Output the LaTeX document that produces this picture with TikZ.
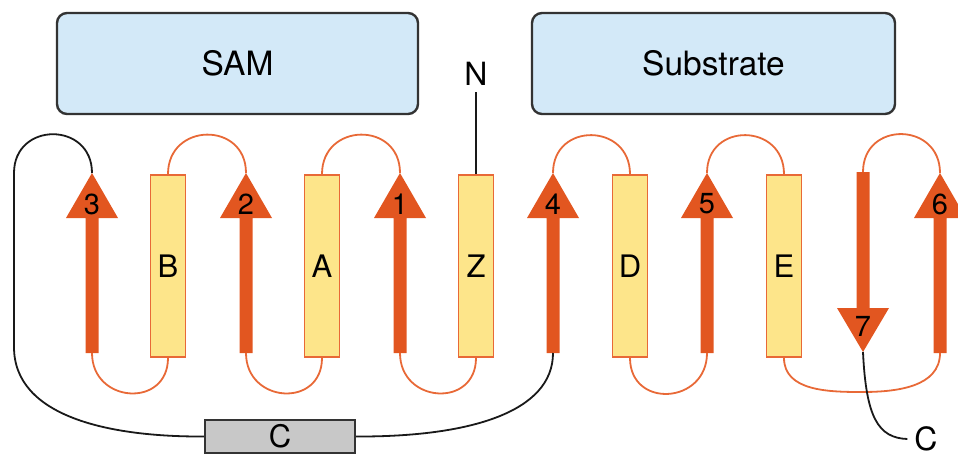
\documentclass[tikz,border=0pt]{standalone}
\usepackage{fontspec}
\setmainfont{TeX Gyre Heros}
\definecolor{strandred}{RGB}{226,86,32}
\definecolor{loopred}{RGB}{232,105,55}
\definecolor{helixfill}{RGB}{253,229,138}
\definecolor{siteblue}{RGB}{211,233,248}
\definecolor{coilgray}{RGB}{200,200,200}
\begin{document}
\begin{tikzpicture}[x=0.5pt, y=0.5pt,
	site/.style={draw=black!80, line width=1.2pt, fill=siteblue, rounded corners=5pt, minimum height=50.5pt, font=\fontsize{16.75}{18}\selectfont},
	helix/.style={draw=loopred, line width=0.9pt, fill=helixfill, minimum width=17.5pt, minimum height=91pt, inner sep=0pt, font=\fontsize{15.5}{17}\selectfont},
	strand/.style={fill=strandred},
	num/.style={inner sep=0pt, font=\fontsize{14.5}{16}\selectfont},
	loop/.style={draw=loopred, line width=0.9pt},
	coil/.style={draw=black!90, line width=0.9pt}]
	\clip (0,0) rectangle (958,457);

	% Binding sites
	\node[site, minimum width=180.5pt] (sam) at (237.5,393.5) {SAM};
	\node[site, minimum width=181.5pt] (sub) at (713.5,393.5) {Substrate};

	% Helices
	\foreach \n/\x in {B/168, A/322, Z/476, D/630, E/784}
		\node[helix] (h\n) at (\x,191) {\n};

	% Strands pointing up
	\foreach \n/\x in {3/92, 2/246, 1/400, 4/553, 5/707, 6/940} {
		\fill[strand] (\x-6.5,104) -- (\x-6.5,239) -- (\x-26,239) -- (\x,284) -- (\x+26,239) -- (\x+6.5,239) -- (\x+6.5,104) -- cycle;
		\coordinate (s\n-top) at (\x,284);
		\coordinate (s\n-bot) at (\x,104);
		\node[num] (n\n) at (\x,253) {\n};
	}

	% Strand 7 points down
	\fill[strand] (856.5,285) -- (856.5,149) -- (837,149) -- (863,105) -- (889,149) -- (869.5,149) -- (869.5,285) -- cycle;
	\coordinate (s7-top) at (863,285);
	\coordinate (s7-bot) at (863,105);
	\node[num] (n7) at (863,131) {7};

	% Loops above
	\draw[loop] (hB.north) to[out=90, in=90, looseness=1.7] (s2-top);
	\draw[loop] (hA.north) to[out=90, in=90, looseness=1.7] (s1-top);
	\draw[loop] (s4-top) to[out=90, in=90, looseness=1.7] (hD.north);
	\draw[loop] (s5-top) to[out=90, in=90, looseness=1.7] (hE.north);
	\draw[loop] (s7-top) to[out=90, in=90, looseness=1.7] (s6-top);

	% Loops below
	\draw[loop] (s3-bot) to[out=-90, in=-90, looseness=1.7] (hB.south);
	\draw[loop] (s2-bot) to[out=-90, in=-90, looseness=1.7] (hA.south);
	\draw[loop] (s1-bot) to[out=-90, in=-90, looseness=1.7] (hZ.south);
	\draw[loop] (hD.south) to[out=-90, in=-90, looseness=1.7] (s5-bot);
	\draw[loop] (hE.south) to[out=-90, in=180] (862,65) to[out=0, in=-90] (s6-bot);

	% Crossover through helix C
	\node[draw=black!80, line width=1.2pt, fill=coilgray, minimum width=75pt, minimum height=16.5pt, inner sep=0pt, font=\fontsize{15.5}{17}\selectfont] (hC) at (280,20.5) {C};
	\draw[coil] (s3-top) to[out=90, in=90, looseness=1.7] (14,284) -- (14,110) .. controls (14,40) and (110,20) .. (hC.west);
	\draw[coil] (hC.east) .. controls (470,20) and (553,45) .. (s4-bot);

	% Termini
	\node[font=\fontsize{16}{18}\selectfont, anchor=base] (N) at (476,372) {N};
	\draw[coil] (hZ.north) -- (N.south);
	\node[font=\fontsize{16}{18}\selectfont] (Cterm) at (926,18) {C};
	\draw[coil] (s7-bot) .. controls (866,40) and (878,19) .. (Cterm.west);
\end{tikzpicture}
\end{document}
